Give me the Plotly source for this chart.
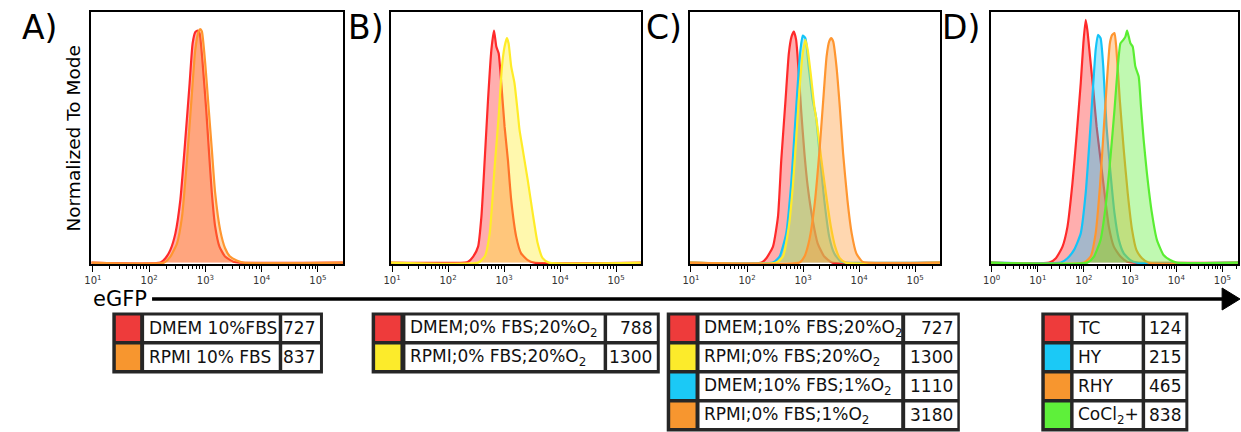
import math
import plotly.graph_objects as go

W, H = 1241, 432
FONT = "DejaVu Sans"

# ---------------- data: x = log10(eGFP), y = % of mode ----------------
# Panel A
A_dmem_x = [0.97, 2.202, 2.290, 2.378, 2.467, 2.555, 2.643, 2.720, 2.773, 2.820, 2.862, 2.897, 2.956, 3.015, 3.062, 3.115, 3.174, 3.250, 3.350, 3.497, 3.615, 5.45]
A_dmem_y = [0, 0, 1.9, 5.5, 12.6, 27.0, 52.9, 77.3, 94.5, 99.3, 100, 98.9, 84.5, 65.8, 48.6, 29.9, 15.5, 6.9, 2.6, 0.4, 0, 0]
A_rpmi_x = [0.97, 2.261, 2.378, 2.496, 2.585, 2.673, 2.761, 2.820, 2.879, 2.909, 2.938, 2.997, 3.056, 3.115, 3.174, 3.262, 3.350, 3.438, 3.557, 3.674, 5.45]
A_rpmi_y = [0, 0, 2.6, 8.3, 19.8, 44.3, 73.0, 91.7, 99.6, 100.6, 99.6, 85.9, 67.2, 48.6, 29.9, 14.1, 6.2, 2.6, 0.9, 0, 0]

# Panel B
B_dmem_x = [0.97, 2.300, 2.359, 2.448, 2.536, 2.595, 2.654, 2.713, 2.773, 2.820, 2.861, 2.903, 2.950, 3.009, 3.068, 3.127, 3.216, 3.304, 3.422, 3.541, 5.45]
B_dmem_y = [0, 0, 0.4, 2.6, 6.9, 19.8, 44.3, 70.1, 91.7, 100, 93.1, 90.2, 77.3, 58.6, 44.3, 27.0, 11.2, 4.0, 1.1, 0, 0]
B_rpmi_x = [0.97, 2.536, 2.654, 2.743, 2.832, 2.903, 2.962, 3.009, 3.050, 3.080, 3.127, 3.186, 3.245, 3.275, 3.334, 3.422, 3.511, 3.600, 3.688, 3.800, 5.45]
B_rpmi_y = [0, 0, 2.6, 12.6, 41.4, 62.9, 84.5, 93.1, 96.7, 94.5, 84.5, 77.3, 64.4, 57.3, 48.6, 35.6, 21.3, 8.3, 1.9, 0, 0]

# Panel C
C_dmem20_x = [0.97, 2.257, 2.345, 2.463, 2.552, 2.611, 2.687, 2.746, 2.794, 2.835, 2.876, 2.923, 2.965, 3.024, 3.083, 3.171, 3.260, 3.378, 3.525, 5.45]
C_dmem20_y = [0, 0, 1.9, 6.9, 19.8, 44.3, 70.1, 90.2, 97.4, 99.6, 96.0, 81.6, 65.8, 47.1, 32.8, 18.4, 8.3, 2.6, 0, 0]
C_dmem1_x = [0.97, 2.463, 2.581, 2.699, 2.788, 2.847, 2.906, 2.953, 2.994, 3.041, 3.100, 3.171, 3.230, 3.289, 3.378, 3.466, 3.555, 3.673, 3.761, 5.45]
C_dmem1_y = [0, 0, 2.6, 12.6, 34.1, 55.7, 77.3, 91.7, 97.8, 96.7, 84.5, 70.1, 62.9, 48.6, 27.0, 11.2, 4.0, 0.4, 0, 0]
C_rpmi20_x = [0.97, 2.522, 2.640, 2.746, 2.817, 2.876, 2.935, 2.994, 3.041, 3.083, 3.142, 3.201, 3.248, 3.319, 3.407, 3.496, 3.572, 3.655, 3.761, 5.45]
C_rpmi20_y = [0, 0, 2.6, 15.5, 32.8, 52.9, 74.4, 90.2, 96.0, 91.7, 80.2, 67.2, 60.1, 45.7, 29.9, 15.5, 6.9, 1.9, 0, 0]
C_rpmi1_x = [0.97, 2.935, 3.024, 3.112, 3.201, 3.289, 3.360, 3.419, 3.466, 3.501, 3.537, 3.596, 3.655, 3.714, 3.791, 3.867, 3.950, 4.056, 4.174, 5.45]
C_rpmi1_y = [0, 0, 2.6, 9.8, 24.1, 47.1, 70.1, 88.8, 95.3, 96.7, 95.3, 84.5, 67.2, 47.1, 27.0, 12.6, 4.0, 0.4, 0, 0]

# Panel D
D_tc_x = [-0.03, 1.248, 1.392, 1.535, 1.643, 1.750, 1.844, 1.930, 1.987, 2.037, 2.073, 2.131, 2.202, 2.274, 2.360, 2.446, 2.539, 2.647, 2.790, 2.934, 3.077, 5.35]
D_tc_y = [0, 0, 1.9, 6.9, 15.5, 34.1, 55.7, 77.3, 94.5, 104.6, 100.3, 88.8, 74.4, 58.6, 44.3, 29.9, 15.5, 6.9, 2.6, 0.4, 0, 0]
D_hy_x = [-0.03, 1.499, 1.643, 1.786, 1.930, 2.037, 2.131, 2.202, 2.253, 2.303, 2.360, 2.418, 2.489, 2.575, 2.661, 2.755, 2.862, 3.006, 3.149, 5.35]
D_hy_y = [0, 0, 1.9, 5.5, 12.6, 29.9, 55.7, 77.3, 91.7, 98.1, 96.7, 84.5, 58.6, 38.5, 21.3, 9.8, 4.0, 1.1, 0, 0]
D_rhy_x = [-0.03, 2.001, 2.145, 2.253, 2.346, 2.432, 2.504, 2.561, 2.611, 2.661, 2.704, 2.776, 2.862, 2.948, 3.042, 3.135, 3.257, 3.400, 5.35]
D_rhy_y = [0, 0, 2.6, 12.6, 32.8, 58.6, 80.2, 94.5, 98.1, 98.9, 91.7, 70.1, 48.6, 29.9, 14.1, 5.5, 1.9, 0, 0]
D_cocl_x = [-0.03, 2.073, 2.217, 2.360, 2.468, 2.575, 2.661, 2.733, 2.790, 2.848, 2.898, 2.934, 2.970, 3.006, 3.056, 3.113, 3.185, 3.235, 3.293, 3.364, 3.472, 3.580, 3.723, 3.867, 4.010, 5.35]
D_cocl_y = [0, 0, 2.6, 9.8, 24.1, 45.7, 65.8, 84.5, 94.5, 95.9, 97.4, 100, 97.4, 94.5, 93.1, 84.5, 80.2, 67.2, 52.9, 38.5, 21.3, 9.8, 3.3, 1.1, 0, 0]

# legend tables
A_labels = ["DMEM 10%FBS", "RPMI 10% FBS"]
A_values = [727, 837]
B_labels = ["DMEM;0% FBS;20%O<sub>2</sub>", "RPMI;0% FBS;20%O<sub>2</sub>"]
B_values = [788, 1300]
C_labels = ["DMEM;10% FBS;20%O<sub>2</sub>", "RPMI;0% FBS;20%O<sub>2</sub>",
            "DMEM;10% FBS;1%O<sub>2</sub>", "RPMI;0% FBS;1%O<sub>2</sub>"]
C_values = [727, 1300, 1110, 3180]
D_labels = ["TC", "HY", "RHY", "CoCl<sub>2</sub>+"]
D_values = [124, 215, 465, 838]

panel_letters = ["A)", "B)", "C)", "D)"]
x_title = "eGFP"
y_title = "Normalized To Mode"

# ---------------- styles ----------------
LINE = {"red": (255, 42, 42), "orange": (255, 150, 48), "yellow": (255, 236, 40),
        "blue": (20, 196, 248), "green": (90, 238, 50)}
SWATCH = {"red": "#EE3B3B", "orange": "#F7962F", "yellow": "#FCEB2B",
          "blue": "#1BC9F6", "green": "#5EF03A"}

def rgb(c, a=1.0):
    return f"rgba({c[0]},{c[1]},{c[2]},{a})"

def px(x):
    return x / W

def py(y):
    return 1 - y / H

panels = [
    dict(box=(84, 337), rng=(0.975, 5.443), majors=[1, 2, 3, 4, 5],
         curves=[(A_dmem_x, A_dmem_y, "red"), (A_rpmi_x, A_rpmi_y, "orange")],
         labels=A_labels, values=A_values, colors=["red", "orange"],
         table=(105, 108.5, 133, 137, 272.5, 276, 314, 317)),
    dict(box=(385, 637), rng=(0.972, 5.443), majors=[1, 2, 3, 4, 5],
         curves=[(B_dmem_x, B_dmem_y, "red"), (B_rpmi_x, B_rpmi_y, "yellow")],
         labels=B_labels, values=B_values, colors=["red", "yellow"],
         table=(366, 369.5, 395, 400, 599.5, 603, 653, 656)),
    dict(box=(686, 938), rng=(0.975, 5.442), majors=[1, 2, 3, 4, 5],
         curves=[(C_dmem20_x, C_dmem20_y, "red"), (C_dmem1_x, C_dmem1_y, "blue"),
                 (C_rpmi20_x, C_rpmi20_y, "yellow"), (C_rpmi1_x, C_rpmi1_y, "orange")],
         labels=C_labels, values=C_values, colors=["red", "yellow", "blue", "orange"],
         table=(663, 666.5, 692, 696, 899, 903, 955.5, 958)),
    dict(box=(989, 1238), rng=(-0.022, 5.337), majors=[0, 1, 2, 3, 4, 5],
         curves=[(D_tc_x, D_tc_y, "red"), (D_hy_x, D_hy_y, "blue"),
                 (D_rhy_x, D_rhy_y, "orange"), (D_cocl_x, D_cocl_y, "green")],
         labels=D_labels, values=D_values, colors=["red", "blue", "orange", "green"],
         table=(1040, 1043.5, 1069, 1072.5, 1141, 1144.5, 1185, 1188)),
]
letter_x = [12, 340, 640, 938]

BOX_TOP, BOX_BOT = 12, 264
fig = go.Figure()
layout = dict(width=W, height=H, autosize=False, margin=dict(l=0, r=0, t=0, b=0, pad=0),
              paper_bgcolor="white", plot_bgcolor="white", showlegend=False,
              font=dict(family=FONT, color="#111"))
shapes, annots = [], []

for i, p in enumerate(panels):
    n = "" if i == 0 else str(i + 1)
    for xs, ys, col in p["curves"]:
        fig.add_trace(go.Scatter(
            x=xs, y=ys, xaxis="x" + n, yaxis="y" + n, mode="lines",
            line=dict(color=rgb(LINE[col]), width=2.2, shape="spline", smoothing=0.5),
            fill="tozeroy", fillcolor=rgb(LINE[col], 0.38), hoverinfo="skip"))
    majors = p["majors"]
    minors = []
    for d in range(majors[0], majors[-1] + 1):
        for k in range(2, 10):
            v = d + math.log10(k)
            if v <= p["rng"][1]:
                minors.append(v)
    layout["xaxis" + n] = dict(
        domain=[px(p["box"][0]), px(p["box"][1])], range=list(p["rng"]),
        anchor="y" + n, showline=True, mirror=True, linecolor="black", linewidth=2,
        showgrid=False, zeroline=False, ticks="outside", ticklen=6, tickwidth=1,
        tickcolor="black", tickmode="array", tickvals=majors,
        ticktext=[f"10<sup>{m}</sup>" for m in majors],
        tickfont=dict(size=10, color="#333", family=FONT),
        minor=dict(tickmode="array", tickvals=minors, ticks="outside", ticklen=3,
                   tickwidth=1, tickcolor="black", showgrid=False),
        fixedrange=True)
    layout["yaxis" + n] = dict(
        domain=[py(BOX_BOT), py(BOX_TOP)], range=[-0.6, 108], anchor="x" + n,
        showline=True, mirror=True, linecolor="black", linewidth=2,
        showgrid=False, zeroline=False, showticklabels=False, ticks="", fixedrange=True)

    annots.append(dict(x=px(letter_x[i]), y=py(28), xref="paper", yref="paper",
                       text=panel_letters[i], showarrow=False, xanchor="left",
                       yanchor="middle", font=dict(size=33, color="black", family=FONT)))

    ox0, c0, c1, t0, t1, n0, n1, ox1 = p["table"]
    nrows = len(p["labels"])
    top = 312.5
    pitch = 29
    shapes.append(dict(type="rect", xref="paper", yref="paper", x0=px(ox0), x1=px(ox1),
                       y0=py(top), y1=py(top + nrows * pitch + 3),
                       fillcolor="#262626", line=dict(width=0), layer="above"))
    for r in range(nrows):
        ry0 = top + 3 + r * pitch
        ry1 = ry0 + 25.5
        for (a, b, fc) in [(c0, c1, SWATCH[p["colors"][r]]), (t0, t1, "white"), (n0, n1, "white")]:
            shapes.append(dict(type="rect", xref="paper", yref="paper", x0=px(a), x1=px(b),
                               y0=py(ry0), y1=py(ry1), fillcolor=fc, line=dict(width=0),
                               layer="above"))
        cy = (ry0 + ry1) / 2
        annots.append(dict(x=px(t0 + 2.5), y=py(cy), xref="paper", yref="paper",
                           text=p["labels"][r], showarrow=False, xanchor="left",
                           yanchor="middle", font=dict(size=17, color="#111", family=FONT)))
        annots.append(dict(x=px(n1 - 2.5), y=py(cy), xref="paper", yref="paper",
                           text=str(p["values"][r]), showarrow=False, xanchor="right",
                           yanchor="middle", font=dict(size=17, color="#111", family=FONT)))

annots.append(dict(x=px(65), y=py(138), xref="paper", yref="paper", text=y_title,
                   showarrow=False, textangle=-90, xanchor="center", yanchor="middle",
                   font=dict(size=18.5, color="black", family=FONT)))
annots.append(dict(x=px(84), y=py(299), xref="paper", yref="paper", text=x_title,
                   showarrow=False, xanchor="left", yanchor="middle",
                   font=dict(size=21, color="black", family=FONT)))
shapes.append(dict(type="line", xref="paper", yref="paper", x0=px(145), x1=px(1226),
                   y0=py(299), y1=py(299), line=dict(color="black", width=3.5)))
shapes.append(dict(type="path", xref="paper", yref="paper",
                   path=f"M {px(1222)} {py(288)} L {px(1240)} {py(299)} L {px(1222)} {py(310)} Z",
                   fillcolor="black", line=dict(color="black", width=1)))

layout["shapes"] = shapes
layout["annotations"] = annots
fig.update_layout(**layout)
fig.write_html(
    "out.html",
    config={"displayModeBar": False, "staticPlot": True},
    post_script=("document.documentElement.style.margin='0px';"
                 "document.documentElement.style.overflow='hidden';"
                 "document.body.style.margin='0px';document.body.style.padding='0px';"
                 "document.body.style.overflow='hidden';"),
)
